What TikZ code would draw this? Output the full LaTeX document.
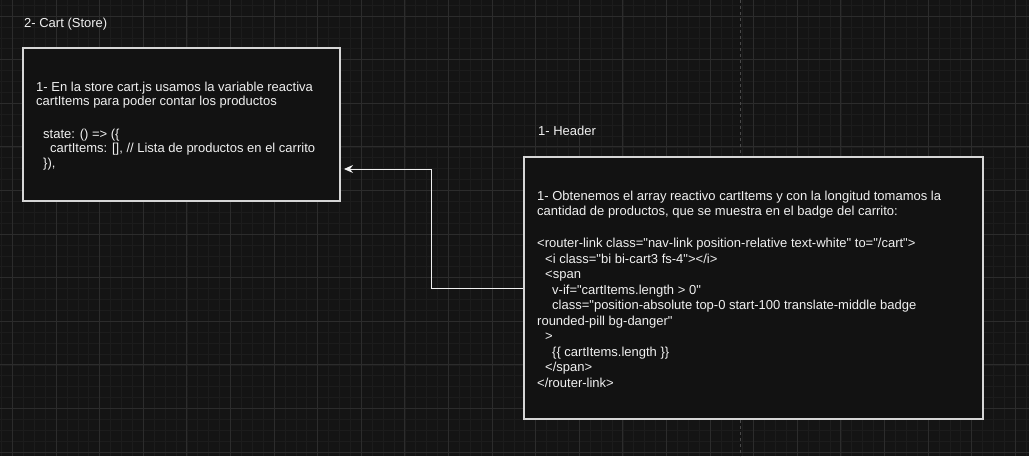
\documentclass[tikz,border=0pt]{standalone}
\usepackage{fontspec}
\setmainfont{Liberation Sans}[Ligatures=TeXOff]
\usetikzlibrary{arrows.meta,calc}
\definecolor{bg}{HTML}{141414}
\definecolor{gridminor}{HTML}{1C1C1C}
\definecolor{gridmajor}{HTML}{2C2C2C}
\definecolor{boxfill}{HTML}{121212}
\definecolor{boxline}{HTML}{D6D6D6}
\definecolor{txt}{HTML}{F0F0F0}
\definecolor{pageline}{HTML}{4A4A4A}
\tikzset{
  panel/.style={draw=boxline, line width=1.3pt, fill=boxfill, rectangle, inner sep=0pt},
  body/.style={text=txt, font=\fontsize{13}{14.5}\selectfont, align=left, anchor=north west, inner sep=0pt},
  hbody/.style={text=txt, font=\fontsize{13}{15.5}\selectfont, align=left, anchor=north west, inner sep=0pt},
  title/.style={text=txt, font=\fontsize{13}{15}\selectfont, anchor=base west, inner sep=0pt},
  link/.style={draw=txt, line width=1pt, -{Stealth[length=9pt,width=8pt,inset=3pt]}}
}
\begin{document}
\begin{tikzpicture}[x=1pt,y=-1pt]
\useasboundingbox (0,0) rectangle (1029,456);
\fill[bg] (0,0) rectangle (1029,456);
% minor grid
\foreach \i in {0,...,95} {
  \pgfmathsetmacro{\gx}{1.5+\i*10.9}
  \draw[gridminor, line width=0.5pt] (\gx,0) -- (\gx,456);
}
\foreach \j in {0,...,42} {
  \pgfmathsetmacro{\gy}{5.1+\j*10.9}
  \draw[gridminor, line width=0.5pt] (0,\gy) -- (1029,\gy);
}
% major grid
\foreach \i in {0,...,23} {
  \pgfmathsetmacro{\gx}{12.4+\i*43.6}
  \draw[gridmajor, line width=0.7pt] (\gx,0) -- (\gx,456);
}
\foreach \j in {0,...,10} {
  \pgfmathsetmacro{\gy}{16+\j*43.6}
  \draw[gridmajor, line width=0.7pt] (0,\gy) -- (1029,\gy);
}
% page break line
\draw[pageline, line width=0.8pt, dash pattern=on 3pt off 3pt] (740,0) -- (740,456);

% titles
\node[title] (t1) at (24,27.5) {2- Cart (Store)};
\node[title] (t2) at (538,135.5) {1- Header};

% boxes
\node[panel, minimum width=317pt, minimum height=153pt] (store) at (181.5,124.5) {};
\node[panel, minimum width=459pt, minimum height=262pt] (header) at (753.5,288) {};

\node[body] (storetxt) at (36,81.5) {1- En la store cart.js usamos la variable reactiva\\
cartItems para poder contar los productos\\[18pt]
\hspace*{7pt}state: () => (\{\\
\hspace*{14pt}cartItems: [], // Lista de productos en el carrito\\
\hspace*{7pt}\}),};

\node[hbody] (headertxt) at (537,190.5) {1- Obtenemos el array reactivo cartItems y con la longitud tomamos la\\
cantidad de productos, que se muestra en el badge del carrito:\\[16.5pt]
<router-link class="nav-link position-relative text-white" to="/cart">\\
\hspace*{8pt}<i class="bi bi-cart3 fs-4"></i>\\
\hspace*{8pt}<span\\
\hspace*{15pt}v-if="cartItems.length > 0"\\
\hspace*{15pt}class="position-absolute top-0 start-100 translate-middle badge\\
rounded-pill bg-danger"\\
\hspace*{8pt}>\\
\hspace*{15pt}\{\{ cartItems.length \}\}\\
\hspace*{8pt}</span>\\
</router-link>};

% connector
\coordinate (tip) at (344,169);
\draw[link] (header.west) -- ++(-92,0) |- (tip);
\end{tikzpicture}
\end{document}
